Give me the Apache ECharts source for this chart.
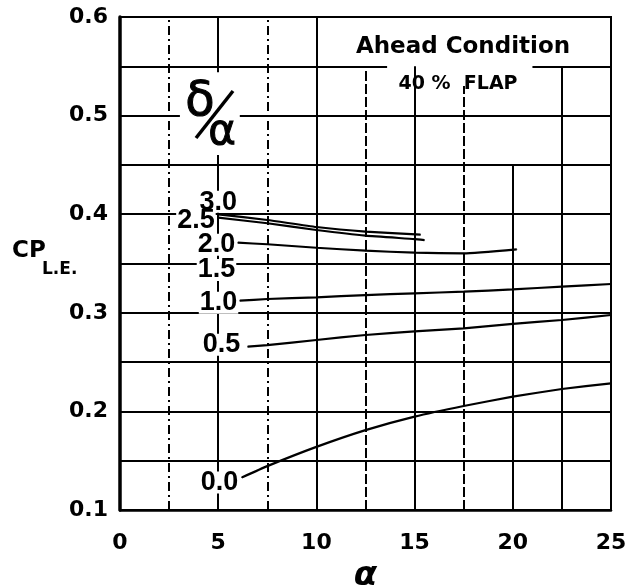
<!DOCTYPE html>
<html><head><meta charset="utf-8">
<script src="https://cdn.jsdelivr.net/npm/echarts@6/dist/echarts.min.js"></script>
<style>html,body{margin:0;padding:0;background:#fff}#c{width:631px;height:587px}</style>
</head><body><div id="c"></div>
<script>
// ---- data ----
const curveNames = ['3.0', '2.5', '2.0', '1.5', '1.0', '0.5', '0.0'];
const alpha30 = [5, 7.5, 10, 12.5, 15.3];
const cp30    = [0.3999, 0.3941, 0.387, 0.3823, 0.3792];
const alpha25 = [5, 7.5, 10, 12.5, 15, 15.5];
const cp25    = [0.3965, 0.3908, 0.384, 0.3782, 0.3748, 0.3738];
const alpha20 = [6.0, 7.5, 10, 12.5, 15, 17.5, 20.2];
const cp20    = [0.3711, 0.3695, 0.366, 0.363, 0.361, 0.3603, 0.3644];
const alpha15 = [6.2, 10, 15, 20];
const cp15    = [0.3495, 0.3495, 0.3495, 0.3495];
const alpha10 = [6.1, 7.5, 10, 12.5, 15, 17.5, 20, 22.5, 25];
const cp10    = [0.3123, 0.314, 0.3157, 0.318, 0.3198, 0.3214, 0.3238, 0.3265, 0.3292];
const alpha05 = [6.5, 7.5, 10, 12.5, 15, 17.5, 20, 22.5, 25];
const cp05    = [0.2656, 0.2673, 0.2724, 0.2775, 0.2812, 0.2843, 0.2888, 0.2927, 0.2978];
const alpha00 = [6.2, 7.5, 10, 12.5, 15, 17.5, 20, 22.5, 25];
const cp00    = [0.133, 0.1445, 0.164, 0.181, 0.1947, 0.2055, 0.215, 0.2227, 0.2285];

const xTicks = [0, 5, 10, 15, 20, 25];
const yTicks = [0.1, 0.2, 0.3, 0.4, 0.5, 0.6];
const hGridFull = [0.15, 0.2, 0.25, 0.3, 0.35, 0.4, 0.45];

// ---- styling ----
const curveSets = [
  [alpha30, cp30], [alpha25, cp25], [alpha20, cp20], [alpha15, cp15],
  [alpha10, cp10], [alpha05, cp05], [alpha00, cp00]
];
const labelStyles = [
  { position: 'top', distance: 1, offset: [0, 0] },
  { position: 'left', distance: 2, offset: [0, 3] },
  { position: 'left', distance: 1, offset: [0, 2] },
  { position: 'left', distance: 5, offset: [0, 6] },
  { position: 'left', distance: 1, offset: [0, 2] },
  { position: 'left', distance: 6, offset: [0, -2] },
  { position: 'left', distance: 2, offset: [0, 5] }
];
const DASHDOT = [9, 4, 2, 4];
const DASH = [10, 3];
function seg(x1, y1, x2, y2, type) {
  return [{ coord: [x1, y1], lineStyle: { type: type || 'solid', width: 2, color: '#000' } }, { coord: [x2, y2] }];
}
const gridSegs = [];
hGridFull.forEach(v => gridSegs.push(seg(0, v, 25, v)));
gridSegs.push(seg(0, 0.5, 3.05, 0.5), seg(6.1, 0.5, 25, 0.5));
gridSegs.push(seg(0, 0.55, 13.6, 0.55), seg(21, 0.55, 25, 0.55));
gridSegs.push(seg(2.5, 0.1, 2.5, 0.6, DASHDOT));
gridSegs.push(seg(5, 0.1, 5, 0.46), seg(5, 0.544, 5, 0.6));
gridSegs.push(seg(7.5, 0.1, 7.5, 0.6, DASHDOT));
gridSegs.push(seg(10, 0.1, 10, 0.6));
gridSegs.push(seg(12.5, 0.1, 12.5, 0.55, DASH));
gridSegs.push(seg(15, 0.1, 15, 0.55));
gridSegs.push(seg(17.5, 0.1, 17.5, 0.53, DASH));
gridSegs.push(seg(20, 0.1, 20, 0.45));
gridSegs.push(seg(22.5, 0.1, 22.5, 0.55));

const curveSeries = curveSets.map((set, k) => ({
  name: curveNames[k],
  type: 'line',
  z: 5,
  smooth: 0.15,
  symbol: 'circle',
  symbolSize: 1,
  showSymbol: true,
  showAllSymbol: true,
  itemStyle: { color: '#000' },
  lineStyle: { color: '#000', width: 2.2 },
  label: { show: false },
  data: set[0].map((a, i) => {
    const item = { value: [a, set[1][i]] };
    if (i === 0) {
      item.label = Object.assign({
        show: true,
        formatter: curveNames[k],
        fontFamily: 'Liberation Sans',
        fontWeight: 'bold',
        fontSize: 27,
        color: '#000',
        backgroundColor: '#fff',
        padding: [0, 1, -2, 1],
        lineHeight: 24
      }, labelStyles[k]);
    }
    return item;
  })
}));

const chart = echarts.init(document.getElementById('c'), null, { renderer: 'canvas' });
const axisFont = { fontFamily: 'DejaVu Sans', fontWeight: 'bold', fontSize: 22, color: '#000' };
chart.setOption({
  backgroundColor: '#fff',
  animation: false,
  grid: { left: 120, right: 20, top: 17, bottom: 77, containLabel: false, outerBoundsMode: 'none', show: true, borderColor: '#000', borderWidth: 2, backgroundColor: 'transparent' },
  xAxis: {
    type: 'value', min: 0, max: 25, interval: 5,
    axisLine: { show: true, lineStyle: { color: '#000', width: 2.5 } },
    axisTick: { show: false },
    splitLine: { show: false },
    axisLabel: Object.assign({ margin: 22, formatter: v => String(v) }, axisFont),
    name: 'α', nameLocation: 'middle', nameGap: 46,
    nameTextStyle: { fontFamily: 'DejaVu Sans', fontStyle: 'italic', fontWeight: 'bold', fontSize: 34, color: '#000' }
  },
  yAxis: {
    type: 'value', min: 0.1, max: 0.6, interval: 0.1,
    axisLine: { show: true, lineStyle: { color: '#000', width: 3.5 } },
    axisTick: { show: false },
    splitLine: { show: false },
    axisLabel: Object.assign({ margin: 12, formatter: v => v.toFixed(1) }, axisFont)
  },
  graphic: [
    { type: 'text', x: 463, y: 47, z: 100, style: { text: 'Ahead Condition', fontFamily: 'DejaVu Sans', fontWeight: 'bold', fontSize: 23, fill: '#000', align: 'center', verticalAlign: 'middle' } },
    { type: 'text', x: 458, y: 84, z: 100, style: { text: '40 %  FLAP', fontFamily: 'DejaVu Sans', fontWeight: 'bold', fontSize: 19, fill: '#000', align: 'center', verticalAlign: 'middle' } },
    { type: 'text', x: 200, y: 103, z: 100, style: { text: 'δ', fontFamily: 'DejaVu Sans', fontSize: 48, fill: '#000', stroke: '#000', lineWidth: 1, align: 'center', verticalAlign: 'middle' } },
    { type: 'line', z: 100, shape: { x1: 196, y1: 138, x2: 233, y2: 91 }, style: { stroke: '#000', lineWidth: 3.5 } },
    { type: 'text', x: 222, y: 133, z: 100, style: { text: 'α', fontFamily: 'DejaVu Sans', fontSize: 42, fill: '#000', stroke: '#000', lineWidth: 1, align: 'center', verticalAlign: 'middle' } },
    { type: 'text', x: 12, y: 251, z: 100, style: { text: 'CP', fontFamily: 'DejaVu Sans', fontWeight: 'bold', fontSize: 23, fill: '#000', align: 'left', verticalAlign: 'middle' } },
    { type: 'text', x: 42, y: 270, z: 100, style: { text: 'L.E.', fontFamily: 'DejaVu Sans', fontWeight: 'bold', fontSize: 17, fill: '#000', align: 'left', verticalAlign: 'middle' } }
  ],
  series: [
    {
      name: 'grid', type: 'line', z: 1, data: [], silent: true,
      markLine: { silent: true, symbol: ['none', 'none'], label: { show: false }, animation: false, data: gridSegs }
    }
  ].concat(curveSeries)
});
</script></body></html>
